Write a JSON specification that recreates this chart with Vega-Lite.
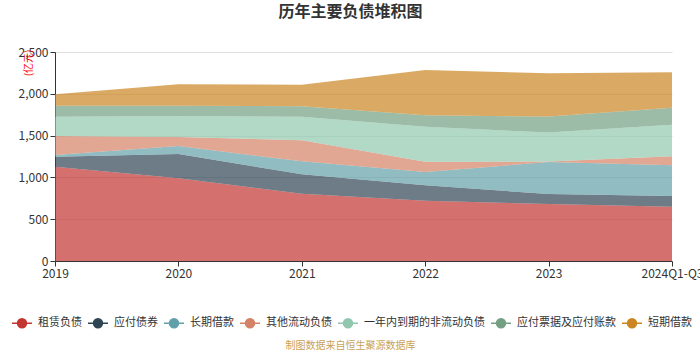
{
  "$schema": "https://vega.github.io/schema/vega-lite/v6.json",
  "width": 617,
  "height": 209,
  "autosize": {"type": "none"},
  "padding": {"left": 55, "top": 52, "right": 28, "bottom": 89},
  "background": "white",
  "config": {
    "font": "Noto Sans CJK SC",
    "view": {"stroke": null}
  },
  "title": {
    "text": "历年主要负债堆积图",
    "fontSize": 16,
    "fontWeight": "bold",
    "color": "#333333",
    "anchor": "middle",
    "frame": "group",
    "dx": -13,
    "offset": 26
  },
  "data": {
    "values": [
      {"year": "2019", "type": "租赁负债", "seq": 1, "value": 1128},
      {"year": "2020", "type": "租赁负债", "seq": 1, "value": 989},
      {"year": "2021", "type": "租赁负债", "seq": 1, "value": 805},
      {"year": "2022", "type": "租赁负债", "seq": 1, "value": 722},
      {"year": "2023", "type": "租赁负债", "seq": 1, "value": 682},
      {"year": "2024Q1-Q3", "type": "租赁负债", "seq": 1, "value": 650},
      {"year": "2019", "type": "应付债券", "seq": 2, "value": 120},
      {"year": "2020", "type": "应付债券", "seq": 2, "value": 291},
      {"year": "2021", "type": "应付债券", "seq": 2, "value": 232},
      {"year": "2022", "type": "应付债券", "seq": 2, "value": 183},
      {"year": "2023", "type": "应付债券", "seq": 2, "value": 119},
      {"year": "2024Q1-Q3", "type": "应付债券", "seq": 2, "value": 128},
      {"year": "2019", "type": "长期借款", "seq": 3, "value": 20},
      {"year": "2020", "type": "长期借款", "seq": 3, "value": 95},
      {"year": "2021", "type": "长期借款", "seq": 3, "value": 155},
      {"year": "2022", "type": "长期借款", "seq": 3, "value": 160},
      {"year": "2023", "type": "长期借款", "seq": 3, "value": 382},
      {"year": "2024Q1-Q3", "type": "长期借款", "seq": 3, "value": 367},
      {"year": "2019", "type": "其他流动负债", "seq": 4, "value": 227},
      {"year": "2020", "type": "其他流动负债", "seq": 4, "value": 108},
      {"year": "2021", "type": "其他流动负债", "seq": 4, "value": 251},
      {"year": "2022", "type": "其他流动负债", "seq": 4, "value": 123},
      {"year": "2023", "type": "其他流动负债", "seq": 4, "value": 6},
      {"year": "2024Q1-Q3", "type": "其他流动负债", "seq": 4, "value": 107},
      {"year": "2019", "type": "一年内到期的非流动负债", "seq": 5, "value": 231},
      {"year": "2020", "type": "一年内到期的非流动负债", "seq": 5, "value": 251},
      {"year": "2021", "type": "一年内到期的非流动负债", "seq": 5, "value": 283},
      {"year": "2022", "type": "一年内到期的非流动负债", "seq": 5, "value": 419},
      {"year": "2023", "type": "一年内到期的非流动负债", "seq": 5, "value": 347},
      {"year": "2024Q1-Q3", "type": "一年内到期的非流动负债", "seq": 5, "value": 379},
      {"year": "2019", "type": "应付票据及应付账款", "seq": 6, "value": 132},
      {"year": "2020", "type": "应付票据及应付账款", "seq": 6, "value": 124},
      {"year": "2021", "type": "应付票据及应付账款", "seq": 6, "value": 124},
      {"year": "2022", "type": "应付票据及应付账款", "seq": 6, "value": 136},
      {"year": "2023", "type": "应付票据及应付账款", "seq": 6, "value": 191},
      {"year": "2024Q1-Q3", "type": "应付票据及应付账款", "seq": 6, "value": 203},
      {"year": "2019", "type": "短期借款", "seq": 7, "value": 136},
      {"year": "2020", "type": "短期借款", "seq": 7, "value": 255},
      {"year": "2021", "type": "短期借款", "seq": 7, "value": 259},
      {"year": "2022", "type": "短期借款", "seq": 7, "value": 542},
      {"year": "2023", "type": "短期借款", "seq": 7, "value": 519},
      {"year": "2024Q1-Q3", "type": "短期借款", "seq": 7, "value": 423}
    ]
  },
  "mark": {"type": "area", "fillOpacity": 0.7, "interpolate": "linear"},
  "encoding": {
    "x": {
      "field": "year",
      "type": "ordinal",
      "scale": {"type": "point", "padding": 0},
      "axis": {
        "labelAngle": 0,
        "labelFontSize": 12,
        "labelColor": "#333333",
        "domainColor": "#333333",
        "tickColor": "#333333",
        "tickSize": 5,
        "labelPadding": 2,
        "grid": false,
        "title": "制图数据来自恒生聚源数据库",
        "titleColor": "#c9a255",
        "titleFontSize": 10,
        "titleFontWeight": "normal",
        "titleX": 295,
        "titleY": 84,
        "titleBaseline": "middle",
        "titleAnchor": "middle",
        "titleAlign": "center"
      }
    },
    "y": {
      "field": "value",
      "type": "quantitative",
      "stack": "zero",
      "scale": {"domain": [0, 2500]},
      "axis": {
        "values": [0, 500, 1000, 1500, 2000, 2500],
        "format": ",.0f",
        "labelFontSize": 12,
        "labelColor": "#333333",
        "domain": true,
        "domainColor": "#333333",
        "tickColor": "#333333",
        "tickSize": 5,
        "labelPadding": 2,
        "gridColor": "#e0e0e0",
        "title": "(亿元)",
        "titleColor": "#ff0000",
        "titleFontSize": 10,
        "titleFontWeight": "normal",
        "titleAngle": -90,
        "titleX": -27,
        "titleY": -3,
        "titleAlign": "right",
        "titleBaseline": "middle"
      }
    },
    "order": {"field": "seq", "type": "quantitative", "sort": "ascending"},
    "color": {
      "field": "type",
      "type": "nominal",
      "scale": {
        "domain": ["租赁负债", "应付债券", "长期借款", "其他流动负债", "一年内到期的非流动负债", "应付票据及应付账款", "短期借款"],
        "range": ["#c23531", "#2f4554", "#61a0a8", "#d48265", "#91c7ae", "#749f83", "#ca8622"]
      },
      "legend": {
        "title": null,
        "orient": "none",
        "direction": "horizontal",
        "columns": 7,
        "legendX": -44,
        "legendY": 260,
        "symbolType": "M -1 0 L -0.45 0 M 0.45 0 L 1 0 M -0.45 0 A 0.45 0.45 0 1 1 0.45 0 A 0.45 0.45 0 1 1 -0.45 0 Z",
        "symbolSize": 400,
        "symbolStrokeWidth": 1.5,
        "symbolOpacity": 1,
        "labelFontSize": 11,
        "labelColor": "#333333",
        "labelOffset": 5,
        "columnPadding": 3,
        "encode": {
          "symbols": {
            "update": {
              "stroke": {"field": "value", "scale": "color"},
              "strokeWidth": {"value": 1.5}
            }
          }
        }
      }
    }
  }
}
